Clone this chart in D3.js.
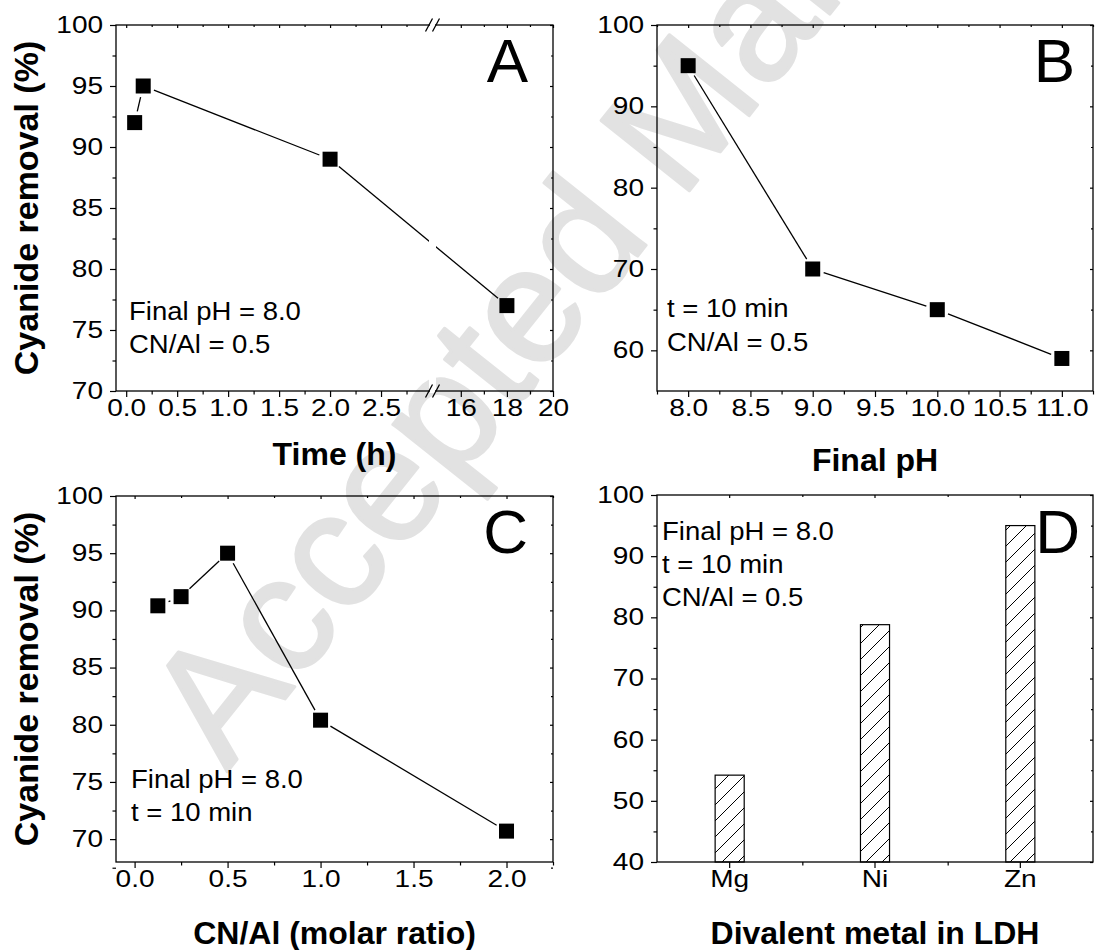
<!DOCTYPE html>
<html><head><meta charset="utf-8">
<script src="https://cdn.jsdelivr.net/npm/d3@7"></script>
<style>
body{margin:0;background:#fff;}
svg{display:block;font-family:"Liberation Sans",Arial,sans-serif;}
</style></head><body>
<svg id="chart" width="1095" height="950"></svg>
<script>
// ---------------- data ----------------
const timeH = [0.083, 0.167, 2, 18];
const removalA = [92, 95, 89, 77];
const finalPH = [8, 9, 10, 11];
const removalB = [95, 70, 65, 59];
const cnAl = [0.125, 0.25, 0.5, 1, 2];
const removalC = [90.4, 91.2, 95, 80.4, 70.7];
const metals = ["Mg", "Ni", "Zn"];
const removalD = [54.2, 78.8, 95];

const ticksAx = [0, 0.5, 1, 1.5, 2, 2.5, 16, 18, 20];
const minorAx = [0.25, 0.75, 1.25, 1.75, 2.25, 2.75, 17, 19];
const ticksAy = [70, 75, 80, 85, 90, 95, 100];
const minorAy = [72.5, 77.5, 82.5, 87.5, 92.5, 97.5];
const ticksBx = [8, 8.5, 9, 9.5, 10, 10.5, 11];
const minorBx = [7.75, 8.25, 8.75, 9.25, 9.75, 10.25, 10.75, 11.25];
const ticksBy = [60, 70, 80, 90, 100];
const minorBy = [65, 75, 85, 95];
const ticksCx = [0, 0.5, 1, 1.5, 2];
const minorCx = [0.25, 0.75, 1.25, 1.75, 2.25];
const ticksCy = [70, 75, 80, 85, 90, 95, 100];
const minorCy = [67.5, 72.5, 77.5, 82.5, 87.5, 92.5, 97.5];
const ticksDy = [40, 50, 60, 70, 80, 90, 100];
const minorDy = [45, 55, 65, 75, 85, 95];

const notesA = ["Final pH = 8.0", "CN/Al = 0.5"];
const notesB = ["t = 10 min", "CN/Al = 0.5"];
const notesC = ["Final pH = 8.0", "t = 10 min"];
const notesD = ["Final pH = 8.0", "t = 10 min", "CN/Al = 0.5"];

// ---------------- layout ----------------
const boxA = {x0: 116, y0: 25, x1: 553, y1: 391};
const boxB = {x0: 657, y0: 25, x1: 1093, y1: 391};
const boxC = {x0: 116, y0: 496, x1: 553, y1: 862};
const boxD = {x0: 657, y0: 495, x1: 1093, y1: 862};
const BRK = 432;
const TICK_SX = 1.22;

const svg = d3.select("#chart");
const defs = svg.append("defs");
const pat = defs.append("pattern").attr("id", "hatch")
  .attr("patternUnits", "userSpaceOnUse").attr("width", 16).attr("height", 16);
pat.append("path").attr("d", "M-4,4 L4,-4 M0,16 L16,0 M12,20 L20,12")
  .attr("stroke", "#000").attr("stroke-width", 1).attr("fill", "none");

// watermark (behind everything)
svg.append("text")
  .attr("transform", "translate(227,772) rotate(-51.5)")
  .attr("font-size", 164).attr("fill", "#e2e2e2")
  .attr("stroke", "#e2e2e2").attr("stroke-width", 3).attr("stroke-linejoin", "round")
  .text("Accepted Manuscript");

// ---------------- scales ----------------
const xA = d3.scaleLinear().domain([-0.1, 3.0, 14.75, 20]).range([boxA.x0, BRK, BRK, boxA.x1]);
const yA = d3.scaleLinear().domain([70, 100]).range([boxA.y1, boxA.y0]);
const xB = d3.scaleLinear().domain([7.75, 11.25]).range([boxB.x0, boxB.x1]);
const yB = d3.scaleLinear().domain([55, 100]).range([boxB.y1, boxB.y0]);
const xC = d3.scaleLinear().domain([-0.1, 2.25]).range([boxC.x0, boxC.x1]);
const yC = d3.scaleLinear().domain([68, 100]).range([boxC.y1, boxC.y0]);
const xD = d3.scaleBand().domain(metals).range([boxD.x0, boxD.x1]);
const xDi = d3.scaleLinear().domain([0, metals.length]).range([boxD.x0, boxD.x1]);
const yD = d3.scaleLinear().domain([40, 100]).range([boxD.y1, boxD.y0]);

const fmt1 = d3.format(".1f");
const fmtAx = d => d < 10 ? fmt1(d) : String(d);

function styleAxis(sel, labels) {
  sel.select(".domain").remove();
  sel.selectAll("line").attr("stroke", "#000").attr("stroke-width", 1.2);
  sel.selectAll("text").attr("fill", "#000").attr("font-size", 23)
    .attr("font-family", '"Liberation Sans",Arial,sans-serif');
  if (labels) sel.selectAll(".tick text").attr("transform", `scale(${TICK_SX},1)`);
}

function drawAxes(box, xs, ys, xMaj, xMin, yMaj, yMin, xFmt, yFmt) {
  const g = svg.append("g");
  g.append("g").attr("transform", `translate(0,${box.y1})`)
    .call(d3.axisBottom(xs).tickValues(xMaj).tickSize(6).tickPadding(3).tickFormat(xFmt))
    .call(s => styleAxis(s, true));
  g.append("g").attr("transform", `translate(0,${box.y1})`)
    .call(d3.axisBottom(xs).tickValues(xMin).tickSize(3.5).tickFormat(""))
    .call(s => styleAxis(s, false));
  g.append("g").attr("transform", `translate(0,${box.y0})`)
    .call(d3.axisTop(xs).tickValues(xMaj).tickSize(-3).tickFormat(""))
    .call(s => styleAxis(s, false));
  g.append("g").attr("transform", `translate(0,${box.y0})`)
    .call(d3.axisTop(xs).tickValues(xMin).tickSize(-2).tickFormat(""))
    .call(s => styleAxis(s, false));
  g.append("g").attr("transform", `translate(${box.x0},0)`)
    .call(d3.axisLeft(ys).tickValues(yMaj).tickSize(6).tickPadding(4.6).tickFormat(yFmt))
    .call(s => styleAxis(s, true));
  g.append("g").attr("transform", `translate(${box.x0},0)`)
    .call(d3.axisLeft(ys).tickValues(yMin).tickSize(3.5).tickFormat(""))
    .call(s => styleAxis(s, false));
  g.append("g").attr("transform", `translate(${box.x1},0)`)
    .call(d3.axisRight(ys).tickValues(yMaj).tickSize(-3).tickFormat(""))
    .call(s => styleAxis(s, false));
  g.append("g").attr("transform", `translate(${box.x1},0)`)
    .call(d3.axisRight(ys).tickValues(yMin).tickSize(-2).tickFormat(""))
    .call(s => styleAxis(s, false));
  g.append("rect").attr("x", box.x0).attr("y", box.y0)
    .attr("width", box.x1 - box.x0).attr("height", box.y1 - box.y0)
    .attr("fill", "none").attr("stroke", "#000").attr("stroke-width", 1.3);
  return g;
}

function drawSeries(xs, ys, xv, yv) {
  const pts = xv.map((d, i) => [xs(d), ys(yv[i])]);
  const gap = 11.5;
  const g = svg.append("g");
  for (let i = 0; i < pts.length - 1; i++) {
    const [x1, y1] = pts[i], [x2, y2] = pts[i + 1];
    const dx = x2 - x1, dy = y2 - y1, L = Math.hypot(dx, dy);
    if (L > 2 * gap) {
      g.append("line")
        .attr("x1", x1 + dx / L * gap).attr("y1", y1 + dy / L * gap)
        .attr("x2", x2 - dx / L * gap).attr("y2", y2 - dy / L * gap)
        .attr("stroke", "#000").attr("stroke-width", 1.3);
    }
  }
  return g;
}
function drawMarkers(xs, ys, xv, yv) {
  svg.append("g").selectAll("rect").data(xv).join("rect")
    .attr("x", (d) => xs(d) - 7.5)
    .attr("y", (d, i) => ys(yv[i]) - 7.5)
    .attr("width", 15).attr("height", 15).attr("fill", "#000");
}

function notes(lines, x, y, dy) {
  const t = svg.append("g");
  lines.forEach((s, i) => {
    t.append("text").attr("transform", `translate(${x},${y + i * dy}) scale(1.1,1)`)
      .attr("font-size", 25).attr("fill", "#000").text(s);
  });
}
function letter(s, xRight, yBase) {
  svg.append("text").attr("x", xRight).attr("y", yBase).attr("text-anchor", "end")
    .attr("font-size", 62).attr("fill", "#000").text(s);
}
function xTitle(s, box, yBase) {
  svg.append("text").attr("x", (box.x0 + box.x1) / 2).attr("y", yBase)
    .attr("text-anchor", "middle").attr("font-size", 32).attr("font-weight", "bold")
    .attr("fill", "#000").text(s);
}
function yTitle(s, box, xBase) {
  svg.append("text").attr("transform", `translate(${xBase},${(box.y0 + box.y1) / 2}) rotate(-90)`)
    .attr("text-anchor", "middle").attr("font-size", 34).attr("font-weight", "bold")
    .attr("fill", "#000").text(s);
}

// ---------------- Panel A ----------------
drawSeries(xA, yA, timeH, removalA);
svg.append("rect").attr("x", BRK - 3).attr("y", boxA.y0 + 1).attr("width", 7)
  .attr("height", boxA.y1 - boxA.y0 - 2).attr("fill", "#fff");
drawMarkers(xA, yA, timeH, removalA);
drawAxes(boxA, xA, yA, ticksAx, minorAx, ticksAy, minorAy, fmtAx, d3.format("d"));
[boxA.y0, boxA.y1].forEach(yy => {
  svg.append("rect").attr("x", BRK - 2).attr("y", yy - 2).attr("width", 5).attr("height", 4).attr("fill", "#fff");
  [BRK - 3, BRK + 4].forEach(xx => {
    svg.append("line").attr("x1", xx - 3.5).attr("y1", yy + 6.5).attr("x2", xx + 3.5).attr("y2", yy - 6.5)
      .attr("stroke", "#000").attr("stroke-width", 1.3);
  });
});
notes(notesA, 129, 320, 33);
letter("A", 528, 82);
xTitle("Time (h)", boxA, 465);
yTitle("Cyanide removal (%)", boxA, 38);

// ---------------- Panel B ----------------
drawSeries(xB, yB, finalPH, removalB);
drawMarkers(xB, yB, finalPH, removalB);
drawAxes(boxB, xB, yB, ticksBx, minorBx, ticksBy, minorBy, fmt1, d3.format("d"));
notes(notesB, 667, 317, 34);
letter("B", 1075, 82);
xTitle("Final pH", boxB, 471);

// ---------------- Panel C ----------------
drawSeries(xC, yC, cnAl, removalC);
drawMarkers(xC, yC, cnAl, removalC);
drawAxes(boxC, xC, yC, ticksCx, minorCx, ticksCy, minorCy, fmt1, d3.format("d"));
notes(notesC, 131, 788, 33);
letter("C", 528, 553);
xTitle("CN/Al (molar ratio)", boxC, 944);
yTitle("Cyanide removal (%)", boxC, 38);

// ---------------- Panel D ----------------
const bw = xD.bandwidth() * 0.2;
svg.append("g").selectAll("rect").data(metals).join("rect")
  .attr("x", d => xD(d) + xD.bandwidth() / 2 - bw / 2)
  .attr("y", (d, i) => yD(removalD[i]))
  .attr("width", bw)
  .attr("height", (d, i) => yD(40) - yD(removalD[i]))
  .attr("fill", "url(#hatch)").attr("stroke", "#000").attr("stroke-width", 1.2);
{
  const g = svg.append("g");
  g.append("g").attr("transform", `translate(0,${boxD.y1})`)
    .call(d3.axisBottom(xD).tickSize(6).tickPadding(3))
    .call(s => styleAxis(s, true));
  g.append("g").attr("transform", `translate(0,${boxD.y1})`)
    .call(d3.axisBottom(xDi).tickValues([1, 2]).tickSize(3.5).tickFormat(""))
    .call(s => styleAxis(s, false));
  g.append("g").attr("transform", `translate(0,${boxD.y0})`)
    .call(d3.axisTop(xD).tickSize(-3).tickFormat(""))
    .call(s => styleAxis(s, false));
  g.append("g").attr("transform", `translate(0,${boxD.y0})`)
    .call(d3.axisTop(xDi).tickValues([1, 2]).tickSize(-2).tickFormat(""))
    .call(s => styleAxis(s, false));
  g.append("g").attr("transform", `translate(${boxD.x0},0)`)
    .call(d3.axisLeft(yD).tickValues(ticksDy).tickSize(6).tickPadding(4.6).tickFormat(d3.format("d")))
    .call(s => styleAxis(s, true));
  g.append("g").attr("transform", `translate(${boxD.x0},0)`)
    .call(d3.axisLeft(yD).tickValues(minorDy).tickSize(3.5).tickFormat(""))
    .call(s => styleAxis(s, false));
  g.append("g").attr("transform", `translate(${boxD.x1},0)`)
    .call(d3.axisRight(yD).tickValues(ticksDy).tickSize(-3).tickFormat(""))
    .call(s => styleAxis(s, false));
  g.append("g").attr("transform", `translate(${boxD.x1},0)`)
    .call(d3.axisRight(yD).tickValues(minorDy).tickSize(-2).tickFormat(""))
    .call(s => styleAxis(s, false));
  g.append("rect").attr("x", boxD.x0).attr("y", boxD.y0)
    .attr("width", boxD.x1 - boxD.x0).attr("height", boxD.y1 - boxD.y0)
    .attr("fill", "none").attr("stroke", "#000").attr("stroke-width", 1.3);
}
notes(notesD, 662, 540, 33);
letter("D", 1080, 553);
xTitle("Divalent metal in LDH", boxD, 944);
</script>
</body></html>
